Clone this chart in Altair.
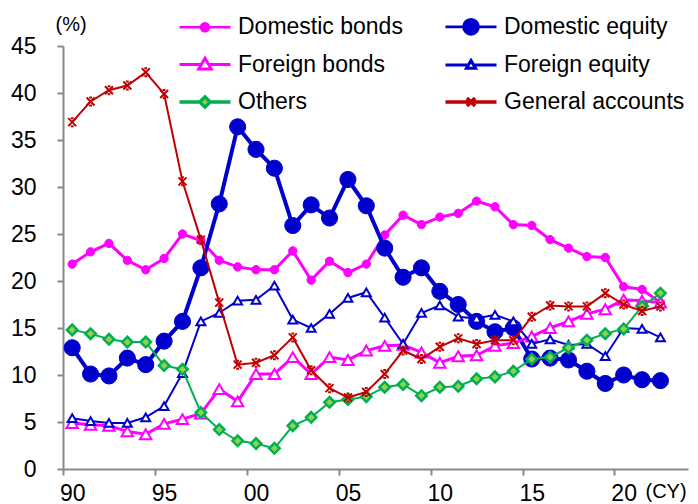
import altair as alt
import pandas as pd

years = list(range(1990, 2023))

domestic_bonds = [21.8, 23.1, 24.0, 22.2, 21.2, 22.4, 25.0, 24.3, 22.2, 21.5,
                  21.2, 21.2, 23.2, 20.1, 22.1, 20.9, 21.8, 24.9, 27.0, 26.0,
                  26.8, 27.2, 28.5, 27.9, 26.0, 25.9, 24.4, 23.5, 22.6, 22.5,
                  19.4, 19.1, 17.7]
domestic_equity = [12.9, 10.1, 9.9, 11.8, 11.1, 13.6, 15.7, 21.4, 28.2, 36.4,
                   34.0, 32.0, 25.9, 28.1, 26.7, 30.8, 28.0, 23.5, 20.4, 21.4,
                   18.9, 17.5, 15.7, 14.6, 15.0, 11.7, 11.8, 11.6, 10.4, 9.1,
                   10.0, 9.5, 9.4]
foreign_bonds = [4.9, 4.7, 4.6, 4.0, 3.7, 4.8, 5.3, 5.9, 8.5, 7.2,
                 10.1, 10.1, 11.9, 10.1, 11.9, 11.6, 12.6, 13.1, 13.2, 12.4,
                 11.3, 12.0, 12.1, 13.1, 13.4, 14.1, 15.0, 15.7, 16.5, 17.0,
                 18.0, 17.9, 17.7]
foreign_equity = [5.4, 5.1, 4.9, 4.9, 5.5, 6.7, 10.2, 15.7, 16.6, 17.9,
                  18.0, 19.5, 15.9, 15.0, 16.5, 18.2, 18.8, 16.1, 13.3, 16.6,
                  17.4, 16.2, 16.0, 16.4, 15.7, 13.3, 13.8, 13.2, 13.3, 12.0,
                  15.0, 14.9, 14.0]
others = [14.8, 14.4, 13.8, 13.5, 13.5, 11.0, 10.6, 6.0, 4.2, 3.0,
          2.7, 2.2, 4.6, 5.5, 7.1, 7.4, 7.7, 8.7, 9.0, 7.8,
          8.7, 8.8, 9.6, 9.8, 10.4, 11.7, 11.9, 12.9, 13.7, 14.4,
          14.9, 17.3, 18.7]
general_accounts = [36.9, 39.1, 40.3, 40.8, 42.2, 39.9, 30.6, 24.4, 17.7, 11.1,
                    11.3, 12.1, 14.0, 10.5, 8.6, 7.6, 8.2, 10.1, 12.6, 11.7,
                    13.0, 13.9, 13.3, 13.7, 13.7, 16.2, 17.4, 17.3, 17.3, 18.7,
                    17.5, 16.8, 17.3]

series_names = ["Domestic bonds", "Domestic equity", "Foreign bonds",
                "Foreign equity", "Others", "General accounts"]
series_values = [domestic_bonds, domestic_equity, foreign_bonds,
                 foreign_equity, others, general_accounts]

x_tick_values = [1990, 1995, 2000, 2005, 2010, 2015, 2020]
y_tick_values = [0, 5, 10, 15, 20, 25, 30, 35, 40, 45]

# styles
line_colors = ["#FF00FF", "#0000CC", "#FF00FF", "#0000CC", "#00B050", "#C00000"]
line_widths = [3, 4, 3, 2, 2, 2]
x_path = "M-1,-1L1,1M1,-1L-1,1M-0.35,-1H0.35M-0.35,1H0.35"
point_shapes = ["circle", "circle", "triangle-up", "triangle-up", "diamond", x_path]
point_sizes = [70, 260, 130, 80, 110, 64]
point_fills = ["#FF00FF", "#0000CC", "white", "white", "#92D050", "transparent"]
point_stroke_widths = [1, 1, 2, 2, 2.5, 2]

legend_paths = [
    "M-1.7,0H1.7M-0.27,0A0.27,0.27,0,1,0,0.27,0A0.27,0.27,0,1,0,-0.27,0Z",
    "M-1.7,0H1.7M-0.5,0A0.5,0.5,0,1,0,0.5,0A0.5,0.5,0,1,0,-0.5,0Z",
    "M-1.7,0H-0.25M0.25,0H1.7M0,-0.42L0.42,0.3L-0.42,0.3Z",
    "M-1.7,0H-0.17M0.17,0H1.7M0,-0.3L0.3,0.22L-0.3,0.22Z",
    "M-1.7,0H-0.35M0.35,0H1.7M-0.35,0L0,-0.35L0.35,0L0,0.35Z",
    "M-1.7,0H1.7M-0.27,-0.27L0.27,0.27M0.27,-0.27L-0.27,0.27",
]
legend_fills = ["#FF00FF", "#0000CC", "white", "white", "#92D050", "transparent"]
legend_widths = [2.5, 3.5, 2.5, 2, 2, 2]

rows = []
for name, vals in zip(series_names, series_values):
    for yr, v in zip(years, vals):
        rows.append({"year": yr, "value": v, "series": name})
df = pd.DataFrame(rows)

FONT = "Liberation Sans"
AXIS_GRAY = "#888888"
band = 625 / 34.0

x_enc = alt.X(
    "year:Q",
    scale=alt.Scale(domain=[1989.5, 2023.5], nice=False, zero=False),
    axis=alt.Axis(
        values=x_tick_values,
        labelExpr="(datum.value % 100) < 10 ? '0' + (datum.value % 100) : '' + (datum.value % 100)",
        tickOffset=-band / 2,
        labelOffset=band / 2,
        title="(CY)",
        titleX=582, titleY=22, titleAlign="left", titleBaseline="middle",
        titleFontWeight="normal", titleFontSize=20, titleFont=FONT, titleColor="black",
        labelFontSize=23, labelFont=FONT, labelColor="black", labelPadding=7,
        labelFlush=False, labelOverlap=False,
        domainColor=AXIS_GRAY, domainWidth=2, tickColor=AXIS_GRAY, tickWidth=2,
        tickSize=6, grid=False,
    ),
)
y_enc = alt.Y(
    "value:Q",
    scale=alt.Scale(domain=[0, 45], nice=False, zero=True),
    axis=alt.Axis(
        values=y_tick_values,
        title="(%)",
        titleAngle=0, titleX=-8, titleY=-22, titleAlign="left", titleBaseline="middle",
        titleFontWeight="normal", titleFontSize=20, titleFont=FONT, titleColor="black",
        labelFontSize=23, labelFont=FONT, labelColor="black", labelPadding=21,
        domainColor=AXIS_GRAY, domainWidth=2, tickColor=AXIS_GRAY, tickWidth=2,
        tickSize=6, grid=False,
    ),
)

layers = []
for i, name in enumerate(series_names):
    base = alt.Chart(df).transform_filter(alt.datum.series == name)
    line = base.mark_line(color=line_colors[i], strokeWidth=line_widths[i]).encode(x=x_enc, y=y_enc)
    pts = base.mark_point(
        shape=point_shapes[i], size=point_sizes[i], filled=True,
        fill=point_fills[i], stroke=line_colors[i],
        strokeWidth=point_stroke_widths[i], opacity=1,
    ).encode(x=x_enc, y=y_enc)
    layers.extend([line, pts])

leg_def = alt.Legend(
    title=None, orient="none", legendX=125, legendY=-36, columns=2,
    direction="horizontal",
    columnPadding=35, rowPadding=8, labelFontSize=23, labelFont=FONT,
    labelColor="black", labelOffset=16, symbolSize=900, symbolOpacity=1,
    padding=0, labelLimit=400,
)
legend_layer = alt.Chart(df).transform_filter("false").mark_point(size=900, opacity=1).encode(
    shape=alt.Shape("series:N", scale=alt.Scale(domain=series_names, range=legend_paths), legend=leg_def),
    stroke=alt.Stroke("series:N", scale=alt.Scale(domain=series_names, range=line_colors), legend=leg_def),
    fill=alt.Fill("series:N", scale=alt.Scale(domain=series_names, range=legend_fills), legend=leg_def),
    strokeWidth=alt.StrokeWidth("series:N", scale=alt.Scale(domain=series_names, range=legend_widths), legend=leg_def),
)

chart = alt.layer(*layers, legend_layer).properties(
    width=625, height=423,
    autosize=alt.AutoSizeParams(type="none"),
    padding={"left": 63, "top": 46, "right": 10, "bottom": 35},
    background="white",
).configure_view(stroke=None)

chart.save("out.html", embed_options={"renderer": "svg", "actions": False})
